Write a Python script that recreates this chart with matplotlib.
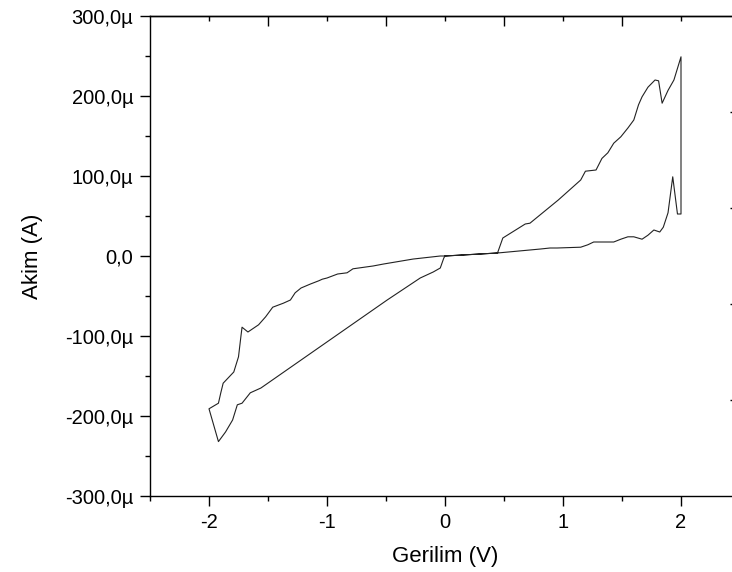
import numpy as np
import matplotlib
matplotlib.use("Agg")
import matplotlib.pyplot as plt
from matplotlib.ticker import FuncFormatter, MultipleLocator, FixedLocator

plt.rcParams['font.family'] = ['Liberation Sans', 'DejaVu Sans']
plt.rcParams['axes.unicode_minus'] = False

# --- data (voltage in V, current in microamps) ---
# positive sweep: 0 -> 2 V (low branch), then back 2 -> 0 V (high branch)
v_pos = [0.0, 0.445, 0.81, 0.89, 0.95, 1.15, 1.21, 1.26, 1.34, 1.43, 1.49, 1.55,
         1.60, 1.67, 1.72, 1.77, 1.82, 1.85, 1.89, 1.93, 1.97, 2.0,
         2.0, 1.94, 1.89, 1.84, 1.81, 1.78, 1.72, 1.67, 1.64, 1.60, 1.55, 1.49,
         1.43, 1.38, 1.33, 1.28, 1.19, 1.15, 0.96, 0.72, 0.68, 0.49, 0.445, 0.0]
i_pos = [0.0, 3.75, 8.75, 10.0, 10.0, 11.0, 14.0, 17.5, 17.5, 17.5, 21.0, 24.0,
         24.0, 21.0, 26.0, 32.5, 30.0, 36.0, 54.0, 99.0, 52.5, 52.5,
         249.0, 220.0, 207.0, 191.0, 219.0, 220.0, 211.0, 199.0, 189.0, 170.0, 160.0, 149.0,
         141.0, 129.0, 122.0, 107.5, 106.0, 95.0, 70.0, 41.0, 40.0, 22.5, 3.75, 0.0]

# negative sweep: 0 -> -2 V, then back -2 -> 0 V
v_neg = [0.0, -0.04, -0.27, -0.52, -0.61, -0.78, -0.83, -0.91, -1.00, -1.04, -1.07,
         -1.14, -1.22, -1.27, -1.31, -1.37, -1.46, -1.52, -1.58, -1.62, -1.67, -1.72,
         -1.73, -1.75, -1.79, -1.88, -1.90, -1.92, -2.00,
         -1.92, -1.86, -1.80, -1.76, -1.72, -1.65, -1.56, -0.49, -0.21, -0.10,
         -0.04, -0.01, 0.0]
i_neg = [0.0, 0.0, -3.8, -10.0, -12.5, -16.0, -21.0, -22.5, -27.5, -29.0, -31.0,
         -35.0, -40.0, -46.0, -55.0, -59.0, -64.0, -76.0, -86.0, -90.0, -95.0, -89.0,
         -101.0, -126.0, -145.0, -159.0, -171.0, -184.0, -191.0,
         -232.0, -220.0, -205.0, -186.0, -184.0, -171.0, -165.0, -55.0, -27.5, -20.0,
         -15.0, -2.5, 0.0]

x_major = [-2, -1, 0, 1, 2]
y_major = [-300, -200, -100, 0, 100, 200, 300]
top_major = [-1.5, -0.5, 0.5, 1.5]
right_ticks = [-180, -60, 60, 180]


def micro_fmt(val, pos):
    if abs(val) < 1e-9:
        return "0,0"
    return f"{val:.1f}".replace(".", ",") + "µ"


fig = plt.figure(figsize=(7.32, 5.72), dpi=100)
ax = fig.add_axes([150 / 732, 76 / 572, 590 / 732, 480 / 572])

ax.plot(v_pos, i_pos, color="#222222", lw=0.8)
ax.plot(v_neg, i_neg, color="#222222", lw=0.8)

ax.set_xlim(-2.5, 2.5)
ax.set_ylim(-300, 300)

ax.xaxis.set_major_locator(FixedLocator(x_major))
ax.xaxis.set_minor_locator(MultipleLocator(0.5))
ax.yaxis.set_major_locator(FixedLocator(y_major))
ax.yaxis.set_minor_locator(MultipleLocator(50))
ax.yaxis.set_major_formatter(FuncFormatter(micro_fmt))

ax.tick_params(which="both", direction="out", width=1.0, labelsize=14.5,
               top=False, right=False)
ax.tick_params(which="major", length=7, pad=5)
ax.tick_params(which="minor", length=3.5)

for side in ["left", "bottom", "top"]:
    ax.spines[side].set_linewidth(1.0)
ax.spines["right"].set_visible(False)

# top axis: inward ticks, offset by half a volt
top = ax.secondary_xaxis("top")
top.set_xticks(top_major)
top.xaxis.set_minor_locator(FixedLocator(x_major))
top.tick_params(which="both", direction="in", labeltop=False, width=1.0)
top.tick_params(which="major", length=7)
top.tick_params(which="minor", length=3.5)
top.spines["top"].set_linewidth(1.0)

# right axis (mostly cut off by the figure edge)
right = ax.secondary_yaxis("right")
right.set_yticks(right_ticks)
right.tick_params(direction="in", length=7, labelright=False, width=1.0)

ax.set_xlabel("Gerilim (V)", fontsize=16, labelpad=10)
ax.set_ylabel("Akim (A)", fontsize=16, labelpad=16)

fig.savefig("out.png", dpi=100)
